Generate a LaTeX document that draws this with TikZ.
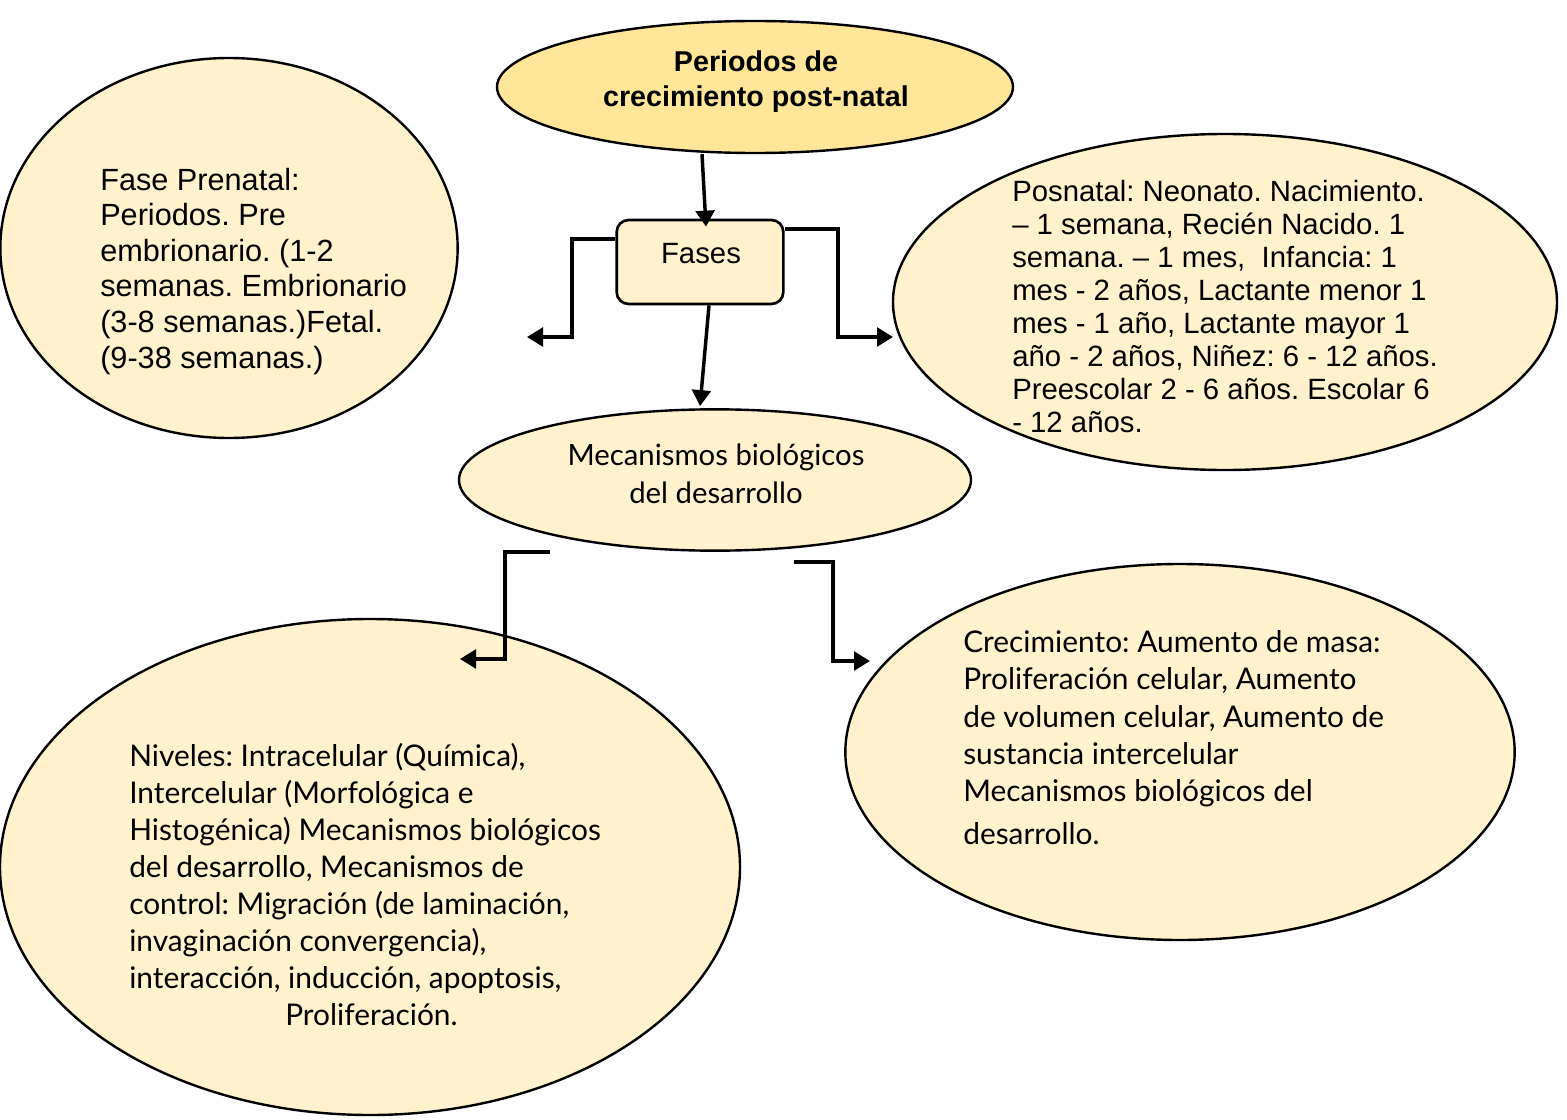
\documentclass[tikz,border=0pt]{standalone}
\usepackage{fontspec}
\setmainfont{Liberation Sans}
\newfontfamily\gillfont{Lato}
\usetikzlibrary{shapes.geometric,arrows.meta,calc}
\definecolor{crema}{HTML}{FFF2CC}
\definecolor{oro}{HTML}{FFE699}
\frenchspacing

\tikzset{
  burbuja/.style={ellipse, draw, line width=1.8pt, fill=crema, inner sep=0pt},
  conector/.style={line width=2.6pt, -{Triangle[width=14pt,length=12pt]}},
  texto/.style={anchor=base west, align=left, inner sep=0pt},
}

\begin{document}
\begin{tikzpicture}[x=0.75pt,y=-0.75pt]
\useasboundingbox (0,0) rectangle (1567,1120);

% Elipses y caja central
\node[burbuja, fill=oro, minimum width=387pt, minimum height=99pt] (periodos) at (755,87) {};
\node[burbuja, minimum width=343pt, minimum height=285pt] (prenatal) at (229,248) {};
\node[burbuja, minimum width=498pt, minimum height=252pt] (posnatal) at (1225,302) {};
\node[burbuja, minimum width=384pt, minimum height=106pt] (mecanismos) at (715,480) {};
\node[burbuja, minimum width=555pt, minimum height=372pt] (niveles) at (370,867) {};
\node[burbuja, minimum width=502pt, minimum height=282pt] (crecimiento) at (1180,752) {};
\node[draw, line width=2pt, fill=crema, rounded corners=9pt, minimum width=125pt, minimum height=63pt] (fases) at (700,262) {};

% Textos (la base es la de la ultima linea)
\node[anchor=base, align=center, inner sep=0pt, font=\fontsize{21.5}{26.25}\selectfont\bfseries] (periodos-txt) at (756,107) {Periodos de\\crecimiento post-natal};
\node[anchor=base, inner sep=0pt, font=\fontsize{22}{26}\selectfont] (fases-txt) at (701,263) {Fases};
\node[texto, font=\fontsize{23}{26.7}\selectfont] (prenatal-txt) at (100,368) {Fase Prenatal:\\Periodos. Pre\\embrionario. (1-2\\semanas. Embrionario\\(3-8 semanas.)Fetal.\\(9-38 semanas.)};
\node[texto, font=\fontsize{22}{24.7}\selectfont] (posnatal-txt) at (1012,432) {Posnatal: Neonato. Nacimiento.\\\textendash{} 1 semana, Recién Nacido. 1\\semana. \textendash{} 1 mes,\ \ Infancia: 1\\mes - 2 años, Lactante menor 1\\mes - 1 año, Lactante mayor 1\\año - 2 años, Niñez: 6 - 12 años.\\Preescolar 2 - 6 años. Escolar 6\\- 12 años.};
\node[anchor=base, align=center, inner sep=0pt, font=\gillfont\fontsize{22}{28.5}\selectfont] (mecanismos-txt) at (716,503) {Mecanismos biológicos\\del desarrollo};
\node[texto, font=\gillfont\fontsize{22.4}{27.7}\selectfont] (niveles-txt) at (129,1025) {Niveles: Intracelular (Química),\\Intercelular (Morfológica e\\Histogénica) Mecanismos biológicos\\del desarrollo, Mecanismos de\\control: Migración (de laminación,\\invaginación convergencia),\\interacción, inducción, apoptosis,\\\hspace*{117pt}Proliferación.};
\node[texto, font=\gillfont\fontsize{22.4}{27.9}\selectfont] (crecimiento-txt) at (963,844) {Crecimiento: Aumento de masa:\\Proliferación celular, Aumento\\de volumen celular, Aumento de\\sustancia intercelular\\Mecanismos biológicos del\\[4pt]desarrollo.};

% Conectores
\coordinate (izq) at (527,337);
\coordinate (der) at (893,337);
\coordinate (abajo-izq) at (550,552);
\coordinate (abajo-der) at (794,562);
\coordinate (punta-izq) at (460,659);
\coordinate (punta-der) at (870,661);

\draw[conector] ($(periodos.south)+(-53,0)$) -- ($(fases.north)+(6,8)$);
\draw[conector] ($(fases.south)+(9,0)$) -- ($(mecanismos.north)+(-15,-2)$);
\draw[conector] ($(fases.west)+(0,-23)$) -- (572,239) -- (572,337) -- (izq);
\draw[conector] ($(fases.east)+(0,-33)$) -- (838,229) -- (838,337) -- (der);
\draw[conector] (abajo-izq) -- (505,552) -- (505,659) -- (punta-izq);
\draw[conector] (abajo-der) -- (833,562) -- (833,661) -- (punta-der);
\end{tikzpicture}
\end{document}
